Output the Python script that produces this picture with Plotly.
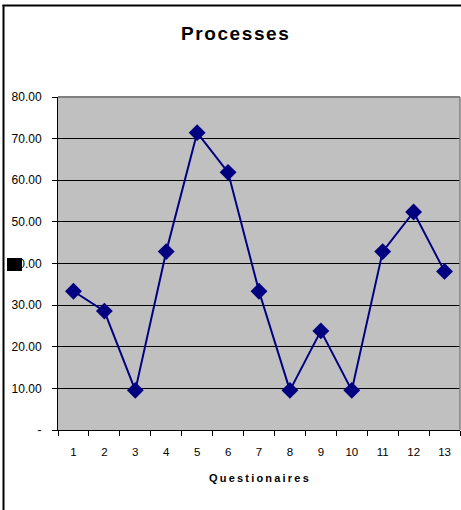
import plotly.graph_objects as go

# Questionnaire scores for the "Processes" section
questionaires = ["1", "2", "3", "4", "5", "6", "7", "8", "9", "10", "11", "12", "13"]
scores = [33.33, 28.57, 9.52, 42.86, 71.43, 61.90, 33.33, 9.52, 23.81, 9.52, 42.86, 52.38, 38.10]

y_tickvals = [0, 10, 20, 30, 40, 50, 60, 70, 80]
y_ticktext = ["-", "10.00", "20.00", "30.00", "40.00", "50.00", "60.00", "70.00", "80.00"]

W, H = 461, 510
L, R, T, B = 58, 1, 97, 80
pw, ph = W - L - R, H - T - B


def px_x(x):
    return (x - L) / pw


def px_y(y):
    return (H - B - y) / ph


def spaced(text, gap):
    return gap.join(text)


fig = go.Figure()
fig.add_trace(go.Scatter(
    x=questionaires, y=scores, mode="lines+markers",
    line=dict(color="#000080", width=2),
    marker=dict(symbol="diamond", size=13, color="#000080"),
    showlegend=False, cliponaxis=False,
))

font = "Liberation Sans, Arial, sans-serif"

fig.update_layout(
    width=W, height=H,
    margin=dict(l=L, r=R, t=T, b=B),
    paper_bgcolor="white", plot_bgcolor="#C0C0C0",
    font=dict(family=font, color="black", size=11),
    xaxis=dict(
        type="category", range=[-0.5, 12.5], tickson="boundaries",
        ticks="outside", ticklen=5, tickcolor="black", tickwidth=1,
        showline=True, linecolor="black", linewidth=1,
        showgrid=False, tickfont=dict(size=11.5), ticklabelstandoff=11,
    ),
    yaxis=dict(
        range=[0, 80], tickvals=y_tickvals, ticktext=y_ticktext,
        ticks="outside", ticklen=5, tickcolor="black", tickwidth=1,
        showline=True, linecolor="black", linewidth=1,
        showgrid=True, gridcolor="black", gridwidth=1, zeroline=False,
        tickfont=dict(size=12), ticklabelstandoff=8,
    ),
    annotations=[
        dict(text="<b>" + spaced("Processes", "\u200a") + "</b>", xref="paper", yref="paper",
             x=px_x(235), y=px_y(34), showarrow=False,
             font=dict(size=19, family=font), xanchor="center", yanchor="middle"),
        dict(text="<b>" + spaced("Questionaires", "\u2009") + "</b>", xref="paper", yref="paper",
             x=px_x(259), y=px_y(478), showarrow=False,
             font=dict(size=11, family=font), xanchor="center", yanchor="middle"),
    ],
    shapes=[
        # plot area border on top and right
        dict(type="line", xref="paper", yref="paper", x0=0, x1=1, y0=1, y1=1,
             line=dict(color="#808080", width=2), layer="above"),
        dict(type="line", xref="paper", yref="paper", x0=1, x1=1, y0=0, y1=1,
             line=dict(color="#808080", width=1.5), layer="above"),
        # outer chart frame
        dict(type="line", xref="paper", yref="paper", x0=px_x(3.5), x1=px_x(3.5),
             y0=px_y(5), y1=px_y(512), line=dict(color="black", width=2)),
        dict(type="line", xref="paper", yref="paper", x0=px_x(2.5), x1=px_x(463),
             y0=px_y(5.5), y1=px_y(5.5), line=dict(color="black", width=2)),
        # filled block over the 40 label
        dict(type="rect", xref="paper", yref="paper", x0=px_x(7), x1=px_x(22),
             y0=px_y(271), y1=px_y(258), fillcolor="black", line=dict(width=0),
             layer="above"),
    ],
)

fig.write_html("out.html")
